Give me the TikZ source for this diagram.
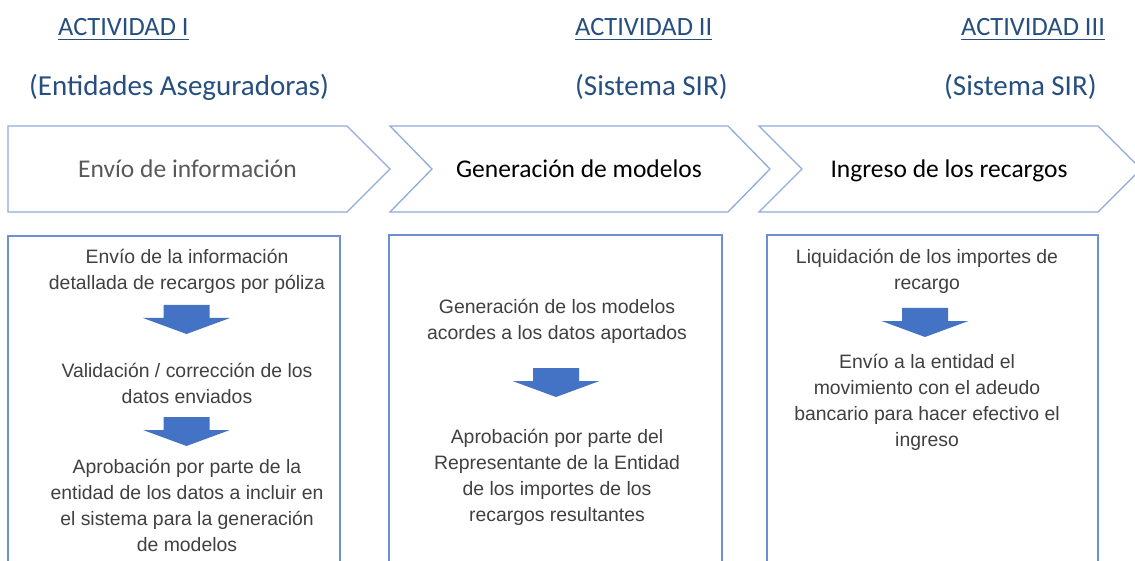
\documentclass[tikz,border=0pt]{standalone}
\usepackage{fontspec}
\setmainfont{Carlito}
\newfontfamily\arialf{Liberation Sans}
\definecolor{hblue}{RGB}{38,79,128}
\definecolor{chevline}{RGB}{143,170,220}
\definecolor{boxline}{RGB}{110,143,210}
\definecolor{arrowblue}{RGB}{68,114,196}
\definecolor{graytxt}{RGB}{89,89,89}
\definecolor{boxtxt}{RGB}{64,64,64}
\begin{document}
\begin{tikzpicture}[x=1pt,y=-1pt,
  head/.style={inner sep=0pt, anchor=base west, text=hblue, font=\fontsize{26.4}{30}\selectfont},
  sub/.style={inner sep=0pt, anchor=base west, text=hblue, font=\fontsize{29}{32}\selectfont},
  uline/.style={draw=hblue, line width=1.5pt},
  chev/.style={draw=chevline, line width=1.3pt, line join=miter},
  chevtxt/.style={inner sep=0pt, anchor=base, font=\fontsize{25.5}{30}\selectfont},
  boxl/.style={draw=boxline, line width=1.5pt},
  btxt/.style={inner sep=0pt, anchor=base, align=center, text=boxtxt, font=\arialf\fontsize{19.4}{26}\selectfont},
  downarrow/.pic={\fill[arrowblue] (-23,0) -- (23,0) -- (23,13) -- (43.5,13) -- (0,29) -- (-43.5,13) -- (-23,13) -- cycle;}
]
\useasboundingbox[fill=white] (0,0) rectangle (1135,561);

% headings
\node[head] (h1) at (58,36) {ACTIVIDAD I};
\node[head] (h2) at (575,36) {ACTIVIDAD II};
\node[head] (h3) at (961,36) {ACTIVIDAD III};
\foreach \h in {h1,h2,h3}
  \draw[uline] ([yshift=-3.5pt]\h.base west) -- ([yshift=-3.5pt]\h.base east);
\node[sub] (s1) at (29,96) {(Entidades Aseguradoras)};
\node[sub] (s2) at (575,96) {(Sistema SIR)};
\node[sub] (s3) at (944,96) {(Sistema SIR)};

% chevrons
\draw[chev] (8,126) -- (347,126) -- (390,169) -- (347,212) -- (8,212) -- cycle;
\draw[chev] (390,126) -- (728,126) -- (770,169) -- (728,212) -- (390,212) -- (432,169) -- cycle;
\draw[chev] (759,126) -- (1098,126) -- (1141,169) -- (1098,212) -- (759,212) -- (802,169) -- cycle;
\node[chevtxt, text=graytxt] (c1) at (187.5,178) {Envío de información};
\node[chevtxt, text=black] (c2) at (579,178) {Generación de modelos};
\node[chevtxt, text=black] (c3) at (949,178) {Ingreso de los recargos};

% boxes
\draw[boxl] (8,236) rectangle (340,580);
\draw[boxl] (389,235) rectangle (722,580);
\draw[boxl] (767,235) rectangle (1098,580);

% box 1 (anchor base = baseline of last line)
\node[btxt] (t11) at (187,290) {Envío de la información\\detallada de recargos por póliza};
\pic (a11) at (186.5,305) {downarrow};
\node[btxt] (t12) at (187,403) {Validación / corrección de los\\datos enviados};
\pic (a12) at (186.5,417) {downarrow};
\node[btxt] (t13) at (187,551) {Aprobación por parte de la\\entidad de los datos a incluir en\\el sistema para la generación\\de modelos};

% box 2
\node[btxt] (t21) at (557,339) {Generación de los modelos\\acordes a los datos aportados};
\pic (a21) at (556,368) {downarrow};
\node[btxt] (t22) at (557,521) {Aprobación por parte del\\Representante de la Entidad\\de los importes de los\\recargos resultantes};

% box 3
\node[btxt] (t31) at (927,290) {Liquidación de los importes de\\recargo};
\pic (a31) at (925,308) {downarrow};
\node[btxt] (t32) at (927,446) {Envío a la entidad el\\movimiento con el adeudo\\bancario para hacer efectivo el\\ingreso};
\end{tikzpicture}
\end{document}
